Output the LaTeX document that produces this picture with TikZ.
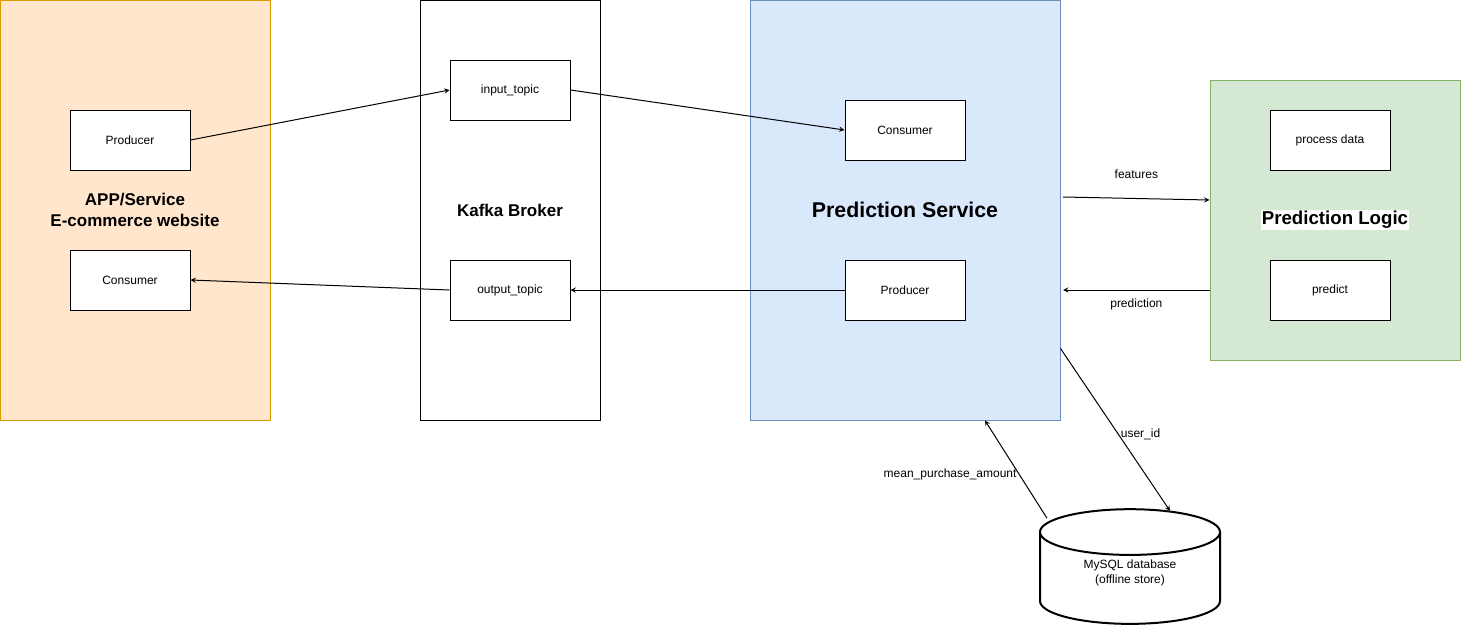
\documentclass[tikz,border=0pt]{standalone}
\usepackage{fontspec}
\setmainfont{Liberation Sans}
\usetikzlibrary{shapes.geometric, arrows}
\definecolor{appfill}{HTML}{FFE6CC}
\definecolor{appdraw}{HTML}{D79B00}
\definecolor{svcfill}{HTML}{DAE8FC}
\definecolor{svcdraw}{HTML}{6C8EBF}
\definecolor{logicfill}{HTML}{D5E8D4}
\definecolor{logicdraw}{HTML}{82B366}
\tikzstyle{container} = [rectangle, minimum height=315pt, text centered, align=center,
draw=black, line width=0.75pt, font=\fontsize{12.75}{15.75}\selectfont\bfseries]
\tikzstyle{app} = [container, minimum width=202.5pt, draw=appdraw, fill=appfill]
\tikzstyle{broker} = [container, minimum width=135pt, fill=white]
\tikzstyle{service} = [container, minimum width=232.5pt, draw=svcdraw, fill=svcfill,
font=\fontsize{16}{19}\selectfont\bfseries]
\tikzstyle{logic} = [container, minimum width=187.5pt, minimum height=210pt, draw=logicdraw, fill=logicfill]
\tikzstyle{block} = [rectangle, minimum width=90pt, minimum height=45pt, text centered,
draw=black, fill=white, line width=0.75pt, font=\fontsize{9}{11}\selectfont]
\tikzstyle{database} = [cylinder, shape border rotate=90, aspect=0.45, minimum width=135pt,
minimum height=86pt, text centered, align=center, draw=black, fill=white, line width=1.5pt,
font=\fontsize{9}{11}\selectfont]
\tikzstyle{arrow} = [line width=0.75pt, ->, >=stealth]
\tikzstyle{lbl} = [font=\fontsize{9}{11}\selectfont]

\begin{document}
\begin{tikzpicture}[x=0.75pt, y=-0.75pt, node distance=105pt]
\useasboundingbox (0,0) rectangle (1461,632);

% ------------------------- nodes -------------------------
% ----- app / service
\node(app)[app] at (135,210) {APP/Service\\E-commerce website};
\node(appprod)[block] at (130,140) {Producer};
\node(appcons)[block, below of=appprod]{Consumer};
% ----- kafka
\node(kafka)[broker] at (510,210) {Kafka Broker};
\node(intopic)[block] at (510,90) {input\_topic};
\node(outtopic)[block, below of=intopic, yshift=-45pt]{output\_topic};
% ----- prediction service
\node(svc)[service] at (905,210) {Prediction Service};
\node(svccons)[block] at (905,130) {Consumer};
\node(svcprod)[block, below of=svccons, yshift=-15pt]{Producer};
% ----- prediction logic
\node(logic)[logic, label={[fill=white, inner sep=1pt, font=\fontsize{14}{16}\selectfont\bfseries]center:Prediction Logic}] at (1335,220) {};
\node(proc)[block] at (1330,140) {process data};
\node(pred)[block, below of=proc, yshift=-7.5pt]{predict};
% ----- database
\node(db)[database, label={[lbl, align=center, yshift=7pt]center:MySQL database\\(offline store)}] at (1130,582) {\phantom{MySQL database}\\\phantom{(offline store)}};

% ------------------------- connections -------------------------
\draw[arrow](appprod.east)--(intopic.west);
\draw[arrow](intopic.east)--(svccons.west);
\draw[arrow](svcprod.west)--(outtopic.east);
\draw[arrow](outtopic.west)--(appcons.east);
\draw[arrow]([xshift=2pt, yshift=9.75pt]svc.east)--node[lbl, midway, yshift=18pt]{features}([yshift=15pt]logic.west);
\draw[arrow]([yshift=-52.5pt]logic.west)--node[lbl, midway, yshift=-10.5pt]{prediction}([xshift=2pt, yshift=-60pt]svc.east);
\draw[arrow]([yshift=54pt]svc.south east)--node[lbl, pos=0.53, xshift=16.5pt]{user\_id}([xshift=30pt, yshift=-2pt]db.north);
\draw[arrow]([xshift=-62.25pt, yshift=-7.5pt]db.north)--node[lbl, pos=0.45, xshift=-51.75pt]{mean\_purchase\_amount}([xshift=60pt]svc.south);
\end{tikzpicture}
\end{document}
